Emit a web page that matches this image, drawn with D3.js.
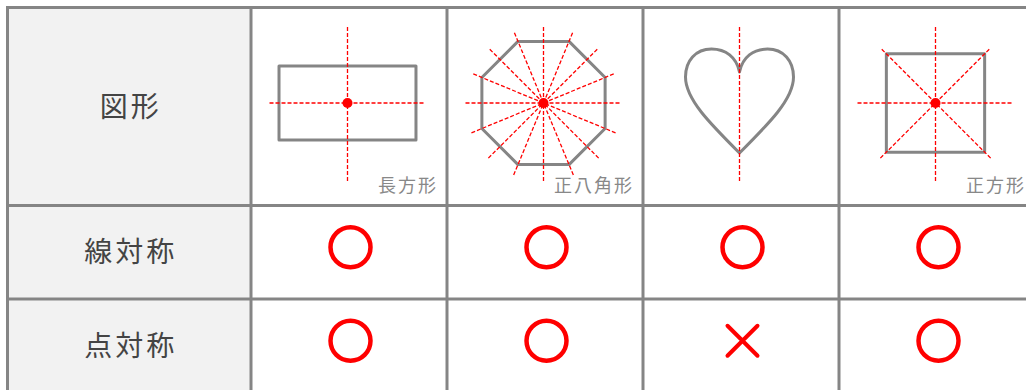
<!DOCTYPE html>
<html>
<head>
<meta charset="utf-8">
<script src="https://cdn.jsdelivr.net/npm/d3@7"></script>
<style>
  body { margin: 0; background: #fff; }
  svg { display: block; font-family: "Noto Sans CJK JP", sans-serif; }
</style>
</head>
<body>
<div id="chart"></div>
<script>
// table content
const rowLabels = ["図形", "線対称", "点対称"];
const shapeNames = ["長方形", "正八角形", "", "正方形"];
const shapeKinds = ["rect", "octagon", "heart", "square"];
const symAxes = [
  [0, 90],
  [0, 22.5, 45, 67.5, 90, 112.5, 135, 157.5],
  [90],
  [0, 45, 90, 135]
];
const lineSym = [true, true, true, true];
const pointSym = [true, true, false, true];

const W = 1026, H = 390;
const gridColor = "#858585";
const red = "#ff0000";

const svg = d3.select("#chart").append("svg")
    .attr("width", W)
    .attr("height", H);

// columns: header column then one per shape
const headerLeft = 7.5;
const x = d3.scaleLinear().domain([0, 1]).range([251, 447]);
const rowEdges = [7.5, 205.5, 299, 392.5];
const rowMid = i => (rowEdges[i] + rowEdges[i + 1]) / 2;
const colMid = i => (x(i) + x(i + 1)) / 2;
const colEdges = [headerLeft].concat(d3.range(shapeKinds.length + 1).map(x));

// header column background
svg.append("rect")
    .attr("x", headerLeft)
    .attr("y", rowEdges[0])
    .attr("width", x(0) - headerLeft)
    .attr("height", rowEdges[3] - rowEdges[0])
    .attr("fill", "#f2f2f2");

// figure size (axis half-length)
const r = d3.scaleLinear().domain([0, 1]).range([0, 78]);
const line = d3.line();

const figs = svg.selectAll(".fig")
    .data(shapeKinds)
    .join("g")
    .attr("class", "fig")
    .attr("transform", (d, i) => "translate(" + (colMid(i) - 1.5) + "," + 103 + ")");

figs.each(function(kind, i) {
  const g = d3.select(this);
  let outline;
  if (kind == "rect") {
    outline = line([[-r(0.878), -r(0.474)], [r(0.878), -r(0.474)], [r(0.878), r(0.474)], [-r(0.878), r(0.474)]]) + "Z";
  } else if (kind == "square") {
    outline = line([[-r(0.63), -r(0.63)], [r(0.63), -r(0.63)], [r(0.63), r(0.63)], [-r(0.63), r(0.63)]]) + "Z";
  } else if (kind == "octagon") {
    const R = r(0.79) / Math.cos(Math.PI / 8);
    outline = line(d3.range(8).map(k => {
      const a = Math.PI / 8 + k * Math.PI / 4;
      return [R * Math.cos(a), R * Math.sin(a)];
    })) + "Z";
  } else {
    const p = d3.path();
    p.moveTo(0, -31);
    p.bezierCurveTo(3, -46, 14, -54, 28, -54);
    p.bezierCurveTo(44, -54, 54, -42, 54, -26);
    p.bezierCurveTo(54, -4, 30, 20, 0, 50);
    p.bezierCurveTo(-30, 20, -54, -4, -54, -26);
    p.bezierCurveTo(-54, -42, -44, -54, -28, -54);
    p.bezierCurveTo(-14, -54, -3, -46, 0, -31);
    p.closePath();
    outline = p.toString();
  }

  g.append("path")
      .attr("d", outline)
      .attr("fill", "none")
      .attr("stroke", gridColor)
      .attr("stroke-width", 3)
      .attr("stroke-linejoin", "round");

  g.selectAll(".axis")
      .data(symAxes[i])
      .join("line")
      .attr("class", "axis")
      .attr("x1", a => -r(1) * Math.cos(a * Math.PI / 180))
      .attr("y1", a => r(1) * Math.sin(a * Math.PI / 180))
      .attr("x2", a => r(1) * Math.cos(a * Math.PI / 180))
      .attr("y2", a => -r(1) * Math.sin(a * Math.PI / 180))
      .attr("stroke", red)
      .attr("stroke-width", 1.3)
      .attr("stroke-dasharray", "4,2");

  if (pointSym[i]) {
    g.append("circle")
        .attr("r", 5)
        .attr("fill", red);
  }
});

// shape names in the bottom right corner of each cell
svg.selectAll(".name")
    .data(shapeNames)
    .join("text")
    .attr("class", "name")
    .attr("x", (d, i) => x(i + 1) - 9)
    .attr("y", 184)
    .attr("text-anchor", "end")
    .attr("dominant-baseline", "central")
    .attr("fill", "#888")
    .style("font-size", "18px")
    .style("letter-spacing", "2px")
    .text(d => d);

// row labels
svg.selectAll(".rowLabel")
    .data(rowLabels)
    .join("text")
    .attr("class", "rowLabel")
    .attr("x", (headerLeft + x(0)) / 2 + 1.5)
    .attr("y", (d, i) => rowMid(i) - 2)
    .attr("text-anchor", "middle")
    .attr("dominant-baseline", "central")
    .attr("fill", "#444")
    .style("font-size", "28px")
    .style("letter-spacing", "3px")
    .text(d => d);

// ○ / × marks
const marks = [];
lineSym.forEach((v, i) => marks.push({ row: 1, col: i, ok: v }));
pointSym.forEach((v, i) => marks.push({ row: 2, col: i, ok: v }));

const mk = svg.selectAll(".mark")
    .data(marks)
    .join("g")
    .attr("class", "mark")
    .attr("transform", d => "translate(" + (colMid(d.col) + 1.5) + "," + (rowMid(d.row) - 5) + ")");

mk.filter(d => d.ok).append("circle")
    .attr("r", 20)
    .attr("fill", "none")
    .attr("stroke", red)
    .attr("stroke-width", 4.5);

mk.filter(d => !d.ok).append("path")
    .attr("d", "M-15,-15L15,15M15,-15L-15,15")
    .attr("fill", "none")
    .attr("stroke", red)
    .attr("stroke-width", 4)
    .attr("stroke-linecap", "round");

// grid lines
svg.selectAll(".vline")
    .data(colEdges)
    .join("line")
    .attr("class", "vline")
    .attr("x1", d => d).attr("x2", d => d)
    .attr("y1", rowEdges[0] - 1.5).attr("y2", H + 5)
    .attr("stroke", gridColor)
    .attr("stroke-width", 3);

svg.selectAll(".hline")
    .data(rowEdges)
    .join("line")
    .attr("class", "hline")
    .attr("x1", headerLeft - 1.5).attr("x2", W + 5)
    .attr("y1", d => d).attr("y2", d => d)
    .attr("stroke", gridColor)
    .attr("stroke-width", 3);
</script>
</body>
</html>
